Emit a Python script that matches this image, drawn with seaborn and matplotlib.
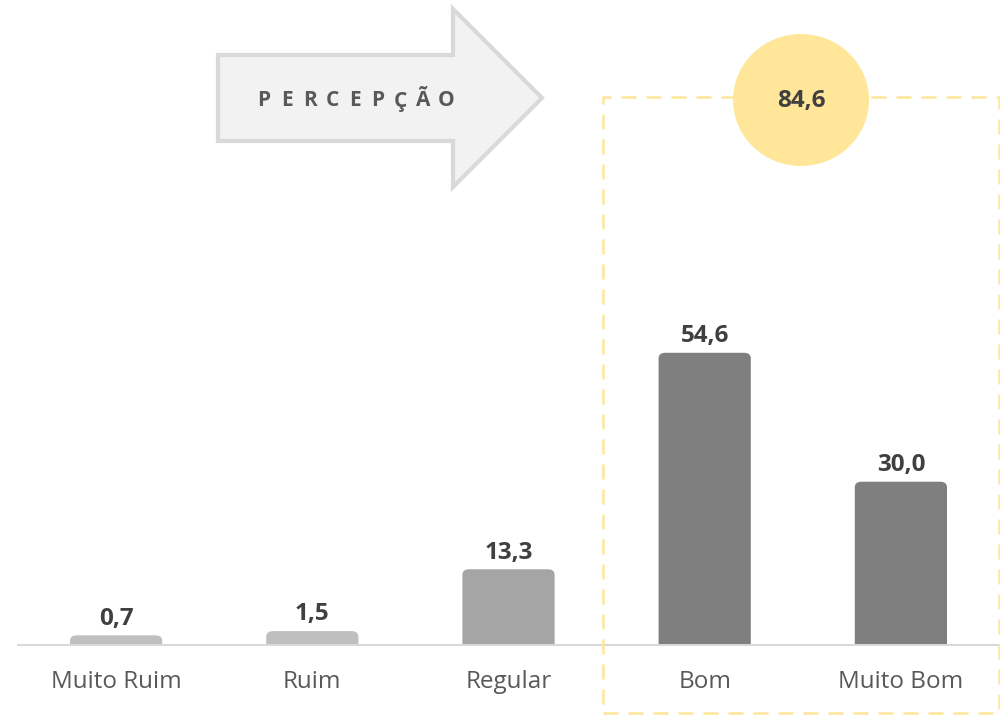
import matplotlib
matplotlib.use("Agg")
import matplotlib.pyplot as plt
import seaborn as sns
import pandas as pd
from matplotlib.patches import FancyBboxPatch, Polygon, Ellipse, Rectangle

# dados
categorias = ["Muito Ruim", "Ruim", "Regular", "Bom", "Muito Bom"]
valores = [0.7, 1.5, 13.3, 54.6, 30.0]
cores = ["#BFBFBF", "#BFBFBF", "#A5A5A5", "#7F7F7F", "#7F7F7F"]
total_positivo = 84.6
titulo_seta = "PERCEPÇÃO"

sns.set_style("white")
plt.rcParams["font.family"] = ["Open Sans", "DejaVu Sans"]

W, H = 1000, 715
fig = plt.figure(figsize=(W / 100, H / 100), dpi=100)
ax = fig.add_axes([18 / W, 1 - 645 / H, 981 / W, 645 / H])

df = pd.DataFrame({"cat": categorias, "val": valores})
sns.barplot(df, x="cat", y="val", hue="cat", palette=dict(zip(categorias, cores)),
            width=0.47, legend=False, ax=ax)
ax.set_xlim(-0.5, 4.5)
# o zero fica um pouco abaixo da linha do eixo (como no original)
ax.set_ylim(-1.15, 121.9)

# troca as barras por barras com cantos arredondados
for p in list(ax.patches):
    x, w, h, c = p.get_x(), p.get_width(), p.get_height(), p.get_facecolor()
    p.remove()
    fb = FancyBboxPatch((x, -4), w, h + 4, boxstyle="round,pad=0,rounding_size=0.035",
                        mutation_aspect=30, facecolor=c, edgecolor="none")
    ax.add_patch(fb)

for i, v in enumerate(valores):
    ax.text(i, v + 0.9, f"{v:.1f}".replace(".", ","), ha="center", va="bottom",
            fontsize=17.5, fontweight="bold", color="#404040")

for s in ["top", "right", "left"]:
    ax.spines[s].set_visible(False)
ax.spines["bottom"].set_color("#D9D9D9")
ax.spines["bottom"].set_linewidth(1.5)
ax.spines["bottom"].set_zorder(5)
ax.set_yticks([])
ax.set_xlabel("")
ax.set_ylabel("")
ax.tick_params(axis="x", length=0, pad=18, labelsize=17.5, labelcolor="#595959")


def fx(px):
    return px / W


def fy(py):
    return 1 - py / H


# seta
seta = [(218, 55), (453, 55), (453, 9), (542, 98), (453, 187), (453, 141), (218, 141)]
fig.patches.append(Polygon([(fx(a), fy(b)) for a, b in seta], closed=True,
                           transform=fig.transFigure, facecolor="#F2F2F2",
                           edgecolor="#D9D9D9", linewidth=3))
for k, ch in enumerate(titulo_seta):
    fig.text(fx(264 + k * 22.8), fy(101), ch, ha="center", va="center",
             fontsize=15, fontweight="bold", color="#595959")

# caixa tracejada
fig.patches.append(Rectangle((fx(603), fy(713)), fx(999) - fx(603), fy(97) - fy(713),
                             transform=fig.transFigure, facecolor="none",
                             edgecolor="#FFE699", linewidth=1.8, linestyle=(0, (6, 4))))
fig.patches.append(Ellipse((fx(801), fy(100)), 136 / W, 132 / H,
                           transform=fig.transFigure, facecolor="#FFE699",
                           edgecolor="none"))
fig.text(fx(801), fy(101), f"{total_positivo:.1f}".replace(".", ","), ha="center",
         va="center", fontsize=17.5, fontweight="bold", color="#404040")

fig.savefig("out.png", dpi=100)
